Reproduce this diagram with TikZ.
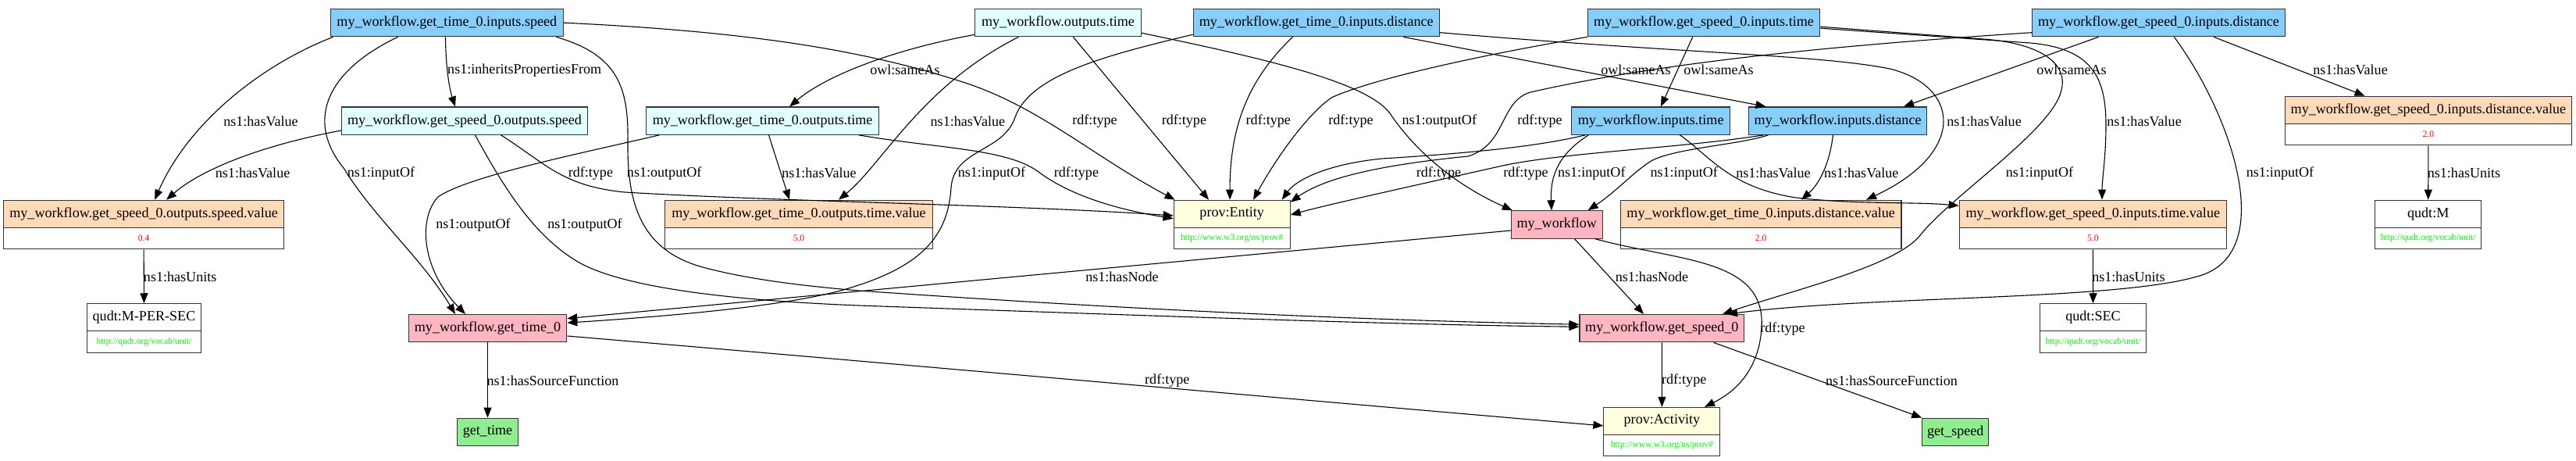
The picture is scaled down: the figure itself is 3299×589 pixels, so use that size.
\documentclass[tikz,border=0pt]{standalone}
\usepackage{fontspec}
\setmainfont[Ligatures=NoCommon]{Liberation Serif}
\usetikzlibrary{arrows.meta,calc}
\definecolor{cblue}{HTML}{87CEFA}
\definecolor{ccyan}{HTML}{E0FFFF}
\definecolor{cpeach}{HTML}{FFDAB9}
\definecolor{cpink}{HTML}{FFB6C1}
\definecolor{cyell}{HTML}{FFFFE0}
\definecolor{cgreen}{HTML}{90EE90}
\definecolor{vred}{HTML}{FF0000}
\definecolor{vgreen}{HTML}{00FF00}
\definecolor{bord}{HTML}{333333}
\begin{document}
\begin{tikzpicture}[x=1pt,y=-1pt,
  nd/.style={draw=bord, line width=1.1pt, rectangle, inner sep=0pt, minimum height=35.3pt, font=\fontsize{18.09}{21}\selectfont},
  bl/.style={nd, fill=cblue},
  cy/.style={nd, fill=ccyan},
  pk/.style={nd, fill=cpink},
  gr/.style={nd, fill=cgreen},
  rt/.style={nd, minimum height=35pt, fill=#1},
  rb/.style={draw=bord, line width=1.1pt, rectangle, inner sep=0pt, minimum height=27.5pt, fill=white, font=\fontsize{11.6}{13}\selectfont},
  val/.style={rb, text=vred},
  url/.style={rb, text=vgreen},
  lb/.style={inner sep=0pt, font=\fontsize{18.09}{21}\selectfont},
  ed/.style={line width=1.1pt, -{Triangle[length=13pt,width=10pt]}},
]
\useasboundingbox (0,0) rectangle (3299,589);

% row 1
\node[bl, minimum width=298.2] (A) at (572.3,29.15) {my\_workflow.get\_time\_0.inputs.speed};
\node[cy, minimum width=212.2] (B) at (1355,29.15) {my\_workflow.outputs.time};
\node[bl, minimum width=315] (C) at (1685.7,29.15) {my\_workflow.get\_time\_0.inputs.distance};
\node[bl, minimum width=297.5] (D) at (2182,29.15) {my\_workflow.get\_speed\_0.inputs.time};
\node[bl, minimum width=323.2] (E) at (2764.5,29.15) {my\_workflow.get\_speed\_0.inputs.distance};
% row 2
\node[cy, minimum width=315] (F) at (595,154.6) {my\_workflow.get\_speed\_0.outputs.speed};
\node[cy, minimum width=298.2] (G) at (976.6,154.6) {my\_workflow.get\_time\_0.outputs.time};
\node[bl, minimum width=202.5] (H) at (2114.15,154.6) {my\_workflow.inputs.time};
\node[bl, minimum width=228.6] (I) at (2353.6,154.6) {my\_workflow.inputs.distance};
\node[rt=cpeach, minimum width=367.5] (J) at (3109.9,140.7) {my\_workflow.get\_speed\_0.inputs.distance.value};
\node[val, minimum width=367.5] (Jv) at (3109.9,171.95) {2.0};
% row 3
\node[rt=cpeach, minimum width=359] (K) at (184.1,273.7) {my\_workflow.get\_speed\_0.outputs.speed.value};
\node[val, minimum width=359] (Kv) at (184.1,304.95) {0.4};
\node[rt=cpeach, minimum width=342.5] (L) at (1023,273.7) {my\_workflow.get\_time\_0.outputs.time.value};
\node[val, minimum width=342.5] (Lv) at (1023,304.95) {5.0};
\node[rt=cyell, minimum width=149] (M) at (1577.65,273.7) {prov:Entity};
\node[url, minimum width=149] (Mv) at (1577.65,304.95) {http://www.w3.org/ns/prov\#};
\node[pk, minimum width=116.7] (N) at (1993.75,287.4) {my\_workflow};
\node[rt=cpeach, minimum width=359.6] (O) at (2255.2,273.7) {my\_workflow.get\_time\_0.inputs.distance.value};
\node[val, minimum width=359.6] (Ov) at (2255.2,304.95) {2.0};
\node[rt=cpeach, minimum width=342] (P) at (2680.3,273.7) {my\_workflow.get\_speed\_0.inputs.time.value};
\node[val, minimum width=342] (Pv) at (2680.3,304.95) {5.0};
\node[rt=white, minimum width=135.6] (Q) at (3109.7,273.7) {qudt:M};
\node[url, minimum width=135.6] (Qv) at (3109.7,304.95) {http://qudt.org/vocab/unit/};
% row 4
\node[rt=white, minimum width=145.3] (R) at (184.5,406.3) {qudt:M-PER-SEC};
\node[url, minimum width=145.3] (Rv) at (184.5,437.55) {http://qudt.org/vocab/unit/};
\node[pk, minimum width=202.5] (S) at (624.5,420.2) {my\_workflow.get\_time\_0};
\node[pk, minimum width=210.7] (T) at (2128.3,420.2) {my\_workflow.get\_speed\_0};
\node[rt=white, minimum width=135.2] (U) at (2680.5,406.3) {qudt:SEC};
\node[url, minimum width=135.2] (Uv) at (2680.5,437.55) {http://qudt.org/vocab/unit/};
% row 5
\node[gr, minimum width=77.5] (V) at (624.5,552.8) {get\_time};
\node[rt=cyell, minimum width=149] (W) at (2128.4,538.9) {prov:Activity};
\node[url, minimum width=149] (Wv) at (2128.4,570.15) {http://www.w3.org/ns/prov\#};
\node[gr, minimum width=85] (X) at (2504.3,552.8) {get\_speed};

% edges
\draw[ed] ($(A.south west)+(3.8,0)$) .. controls (330,85) and (240,160) .. ($(K.north)+(14,0)$);
\draw[ed] ($(F.west)+(0,12.4)$) .. controls (340,185) and (260,215) .. ($(K.north)+(29,0)$);
\draw[ed] ($(A.south west)+(86.8,0)$) .. controls (410,95) and (395,160) .. (440,215) .. controls (480,280) and (540,330) .. ($(S.north)+(-41.5,0)$);
\draw[ed] ($(A.south west)+(147.8,0)$) .. controls (571,90) and (576,115) .. ($(F.north)+(-12,0)$);
\draw[ed] (A.east) .. controls (950,40) and (1100,62) .. (1233,105) .. controls (1330,136) and (1400,200) .. ($(M.north west)+(2,0)$);
\draw[ed] ($(A.south west)+(289.8,0)$) .. controls (790,70) and (805,110) .. (804,180) .. controls (803,260) and (820,320) .. (900,342) .. controls (960,358) and (1030,366) .. (1100,372) .. controls (1500,400) and (1800,411) .. ($(T.west)+(0,-5)$);
\draw[ed] ($(F.south west)+(171.5,0)$) .. controls (640,230) and (680,300) .. (740,335) .. controls (800,370) and (950,385) .. (1100,391) .. controls (1500,405) and (1800,416) .. ($(T.west)+(0,-2)$);
\draw[ed] ($(F.south west)+(204.5,0)$) .. controls (700,210) and (720,238) .. (800,246) .. controls (1000,258) and (1300,262) .. ($(M.west)+(0,2.3)$);
\draw[ed] ($(G.south west)+(17.5,0)$) .. controls (750,195) and (600,225) .. (561,252) .. controls (535,280) and (540,345) .. ($(S.north)+(-28.5,0)$);
\draw[ed] ($(G.south west)+(157.5,0)$) -- ($(L.north)+(-12,0)$);
\draw[ed] ($(G.south west)+(272.5,0)$) .. controls (1200,190) and (1290,190) .. (1330,220) .. controls (1370,250) and (1430,268) .. ($(M.west)+(0,6)$);
\draw[ed] ($(B.south west)+(0,-3)$) .. controls (1150,62) and (1060,95) .. ($(G.north)+(34.5,0)$);
\draw[ed] ($(B.south west)+(56,0)$) .. controls (1180,110) and (1130,210) .. ($(L.north)+(51,0)$);
\draw[ed] ($(B.south west)+(126,0)$) -- ($(M.north)+(-29.6,0)$);
\draw[ed] ($(B.east)+(0,13)$) .. controls (1620,75) and (1750,105) .. (1780,145) .. controls (1810,190) and (1860,235) .. ($(N.north west)+(2,0)$);
\draw[ed] ($(C.west)+(0,15)$) .. controls (1420,70) and (1320,95) .. (1300,150) .. controls (1285,195) and (1222,190) .. (1218,240) .. controls (1214,310) and (1170,345) .. (1080,371) .. controls (1000,393) and (850,405) .. ($(S.east)+(0,-7)$);
\draw[ed] ($(C.south west)+(127.8,0)$) .. controls (1600,100) and (1575,160) .. ($(M.north)+(-2.6,0)$);
\draw[ed] ($(C.south west)+(269.8,0)$) -- ($(I.north west)+(22.7,0)$);
\draw[ed] ($(C.east)+(0,12.5)$) .. controls (2150,68) and (2330,70) .. (2420,88) .. controls (2510,110) and (2520,195) .. ($(O.north)+(134.8,0)$);
\draw[ed] (D.south west) .. controls (1900,70) and (1760,100) .. (1705,125) .. controls (1670,150) and (1630,210) .. ($(M.north)+(27.35,0)$);
\draw[ed] ($(D.south west)+(135,0)$) -- ($(H.north)+(12.8,0)$);
\draw[ed] ($(D.east)+(0,5)$) -- (2540,50) .. controls (2620,56) and (2648,85) .. (2640,115) .. controls (2630,165) and (2500,250) .. (2460,300) .. controls (2430,340) and (2300,370) .. ($(T.north)+(77.7,0)$);
\draw[ed] ($(D.east)+(0,7)$) -- (2600,55) .. controls (2680,62) and (2697,100) .. (2697,160) .. controls (2697,200) and (2692,230) .. ($(P.north)+(11.7,0)$);
\draw[ed] ($(E.west)+(0,12.5)$) .. controls (2400,55) and (2150,75) .. (1960,118) .. controls (1920,130) and (1930,185) .. (1880,200) .. controls (1780,210) and (1700,225) .. ($(M.north east)+(0,3)$);
\draw[ed] ($(E.south west)+(85.1,0)$) -- ($(I.north)+(84.4,0)$);
\draw[ed] ($(E.south west)+(232.7,0)$) -- ($(J.north)+(-81.4,0)$);
\draw[ed] ($(E.south west)+(182,0)$) .. controls (2860,150) and (2915,320) .. (2820,352) .. controls (2720,385) and (2400,378) .. ($(T.north)+(83.7,0)$);
\draw[ed] ($(H.south west)+(18,0)$) .. controls (1960,190) and (1850,198) .. (1770,203) .. controls (1700,210) and (1660,230) .. ($(M.north east)+(-11,0)$);
\draw[ed] ($(H.south west)+(22,0)$) .. controls (2000,195) and (1985,220) .. ($(N.north)+(-6.75,0)$);
\draw[ed] ($(H.south west)+(139,0)$) .. controls (2190,200) and (2215,240) .. (2300,253) .. controls (2380,262) and (2450,258) .. ($(P.west)+(0,-10.5)$);
\draw[ed] ($(I.south west)+(108.7,0)$) .. controls (2343,210) and (2330,235) .. ($(O.north)+(51.8,0)$);
\draw[ed] ($(I.south west)+(25.7,0)$) .. controls (2230,185) and (2140,190) .. (2113,207) .. controls (2090,222) and (2070,245) .. ($(N.north east)+(-19,0)$);
\draw[ed] ($(I.south west)+(20,0)$) .. controls (2150,190) and (2000,195) .. (1920,213) .. controls (1800,240) and (1700,262) .. ($(M.east)+(0,1.3)$);
\draw[ed] (Jv.south) -- (Q.north);
\draw[ed] ($(N.west)+(0,7.6)$) -- ($(S.east)+(0,-12.6)$);
\draw[ed] ($(N.south west)+(81.6,0)$) -- ($(T.north)+(-23.3,0)$);
\draw[ed] ($(N.south west)+(107.6,0)$) .. controls (2150,335) and (2262,330) .. (2256,420) .. controls (2252,480) and (2215,505) .. ($(W.north)+(54.6,0)$);
\draw[ed] (Pv.south) -- (U.north);
\draw[ed] (S.south) -- (V.north);
\draw[ed] ($(S.east)+(0,9.8)$) .. controls (1200,470) and (1700,515) .. ($(W.west)+(0,6)$);
\draw[ed] (T.south) -- (W.north);
\draw[ed] ($(T.south east)+(-39.65,0)$) -- (X.north west);
\draw[ed] (Kv.south) -- (R.north);

% edge labels
\node[lb] (l1) at (334,155.3) {ns1:hasValue};
\node[lb] (l2) at (323.6,221.6) {ns1:hasValue};
\node[lb] (l3) at (488,221.6) {ns1:inputOf};
\node[lb] (l4) at (230.7,354.5) {ns1:hasUnits};
\node[lb] (l5) at (671.7,89.7) {ns1:inheritsPropertiesFrom};
\node[lb] (l6) at (756.4,221.6) {rdf:type};
\node[lb] (l7) at (749,288.5) {ns1:outputOf};
\node[lb] (l8) at (850.7,221.6) {ns1:outputOf};
\node[lb] (l9) at (606,288.5) {ns1:outputOf};
\node[lb] (l10) at (1049,221.6) {ns1:hasValue};
\node[lb] (l11) at (708,487.3) {ns1:hasSourceFunction};
\node[lb] (l12) at (1402,155.3) {rdf:type};
\node[lb] (l13) at (1159,89.7) {owl:sameAs};
\node[lb] (l14) at (1239.4,155.3) {ns1:hasValue};
\node[lb] (l15) at (1516.4,155.3) {rdf:type};
\node[lb] (l16) at (1270,221.6) {ns1:inputOf};
\node[lb] (l17) at (1378.4,221.6) {rdf:type};
\node[lb] (l18) at (1437,354.5) {ns1:hasNode};
\node[lb] (l19) at (1494.8,487.3) {rdf:type};
\node[lb] (l20) at (1624.3,155.3) {rdf:type};
\node[lb] (l21) at (1730,155.3) {rdf:type};
\node[lb] (l22) at (1843.3,155.3) {ns1:outputOf};
\node[lb] (l23) at (1972,155.3) {rdf:type};
\node[lb] (l24) at (1842.5,221.6) {rdf:type};
\node[lb] (l25) at (1954,221.6) {rdf:type};
\node[lb] (l26) at (2038.3,221.6) {ns1:inputOf};
\node[lb] (l27) at (2156.7,221.6) {ns1:inputOf};
\node[lb] (l28) at (2095,89.7) {owl:sameAs};
\node[lb] (l29) at (2201,89.7) {owl:sameAs};
\node[lb] (l30) at (2653,89.7) {owl:sameAs};
\node[lb] (l31) at (2541,155.3) {ns1:hasValue};
\node[lb] (l32) at (2271,221.6) {ns1:hasValue};
\node[lb] (l33) at (2383.7,221.6) {ns1:hasValue};
\node[lb] (l34) at (2746,155.3) {ns1:hasValue};
\node[lb] (l35) at (2612,221.6) {ns1:inputOf};
\node[lb] (l36) at (3010,89.7) {ns1:hasValue};
\node[lb] (l37) at (2920,221.6) {ns1:inputOf};
\node[lb] (l38) at (3155.5,221.6) {ns1:hasUnits};
\node[lb] (l39) at (2726,354.5) {ns1:hasUnits};
\node[lb] (l40) at (2115.5,354.5) {ns1:hasNode};
\node[lb] (l41) at (2283,420.7) {rdf:type};
\node[lb] (l42) at (2156.7,487.3) {rdf:type};
\node[lb] (l43) at (2422.5,487.3) {ns1:hasSourceFunction};
\end{tikzpicture}
\end{document}
